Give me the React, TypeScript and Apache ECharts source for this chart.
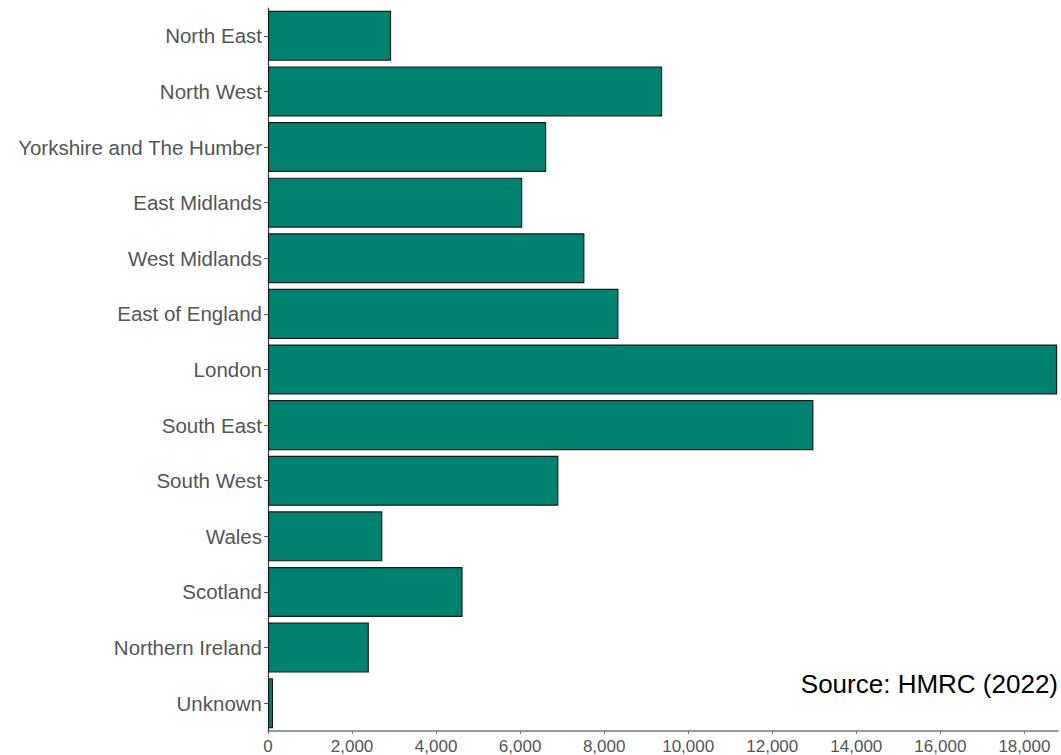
import React, { useEffect, useRef } from "react";
import * as echarts from "echarts";

const categories = [
  "North East",
  "North West",
  "Yorkshire and The Humber",
  "East Midlands",
  "West Midlands",
  "East of England",
  "London",
  "South East",
  "South West",
  "Wales",
  "Scotland",
  "Northern Ireland",
  "Unknown",
];

const values = [2930, 9380, 6620, 6050, 7530, 8340, 18780, 12980, 6910, 2720, 4630, 2400, 120];

const xMax = 18800;
const xInterval = 2000;
const sourceText = "Source: HMRC (2022)";

const FONT = "'Liberation Sans', Arial, sans-serif";

export default function App() {
  const ref = useRef<HTMLDivElement>(null);
  useEffect(() => {
    if (!ref.current) return;
    const chart = echarts.init(ref.current, undefined, { renderer: "svg" });
    chart.setOption({
      animation: false,
      backgroundColor: "#ffffff",
      textStyle: { fontFamily: FONT },
      grid: { left: 268, right: 3, top: 8, bottom: 22, containLabel: false },
      xAxis: {
        type: "value",
        min: 0,
        max: xMax,
        interval: xInterval,
        splitLine: { show: false },
        axisLine: { show: true, lineStyle: { color: "#777777", width: 1.5 } },
        axisTick: { show: true, length: 3, lineStyle: { color: "#777777" } },
        axisLabel: {
          color: "#555555",
          fontSize: 17,
          fontFamily: FONT,
          margin: 7,
          showMaxLabel: false,
          formatter: (v: number) => v.toLocaleString("en-GB"),
        },
      },
      yAxis: {
        type: "category",
        data: categories,
        inverse: true,
        axisLine: { show: true, lineStyle: { color: "#333333", width: 1.2 } },
        axisTick: { show: true, length: 4, alignWithLabel: true, lineStyle: { color: "#555555" } },
        axisLabel: { color: "#555555", fontSize: 20.5, fontFamily: FONT, margin: 6 },
      },
      series: [
        {
          type: "bar",
          data: values,
          barCategoryGap: "10%",
          itemStyle: { color: "#008270", borderColor: "#1a1a1a", borderWidth: 1.2 },
        },
      ],
      graphic: [
        {
          type: "text",
          right: 3,
          top: 671,
          style: { text: sourceText, fontSize: 26, fontFamily: FONT, fill: "#000000" },
        },
      ],
    });
    return () => chart.dispose();
  }, []);
  return <div ref={ref} style={{ width: 1061, height: 755, position: "absolute", left: 0, top: 0 }} />;
}
